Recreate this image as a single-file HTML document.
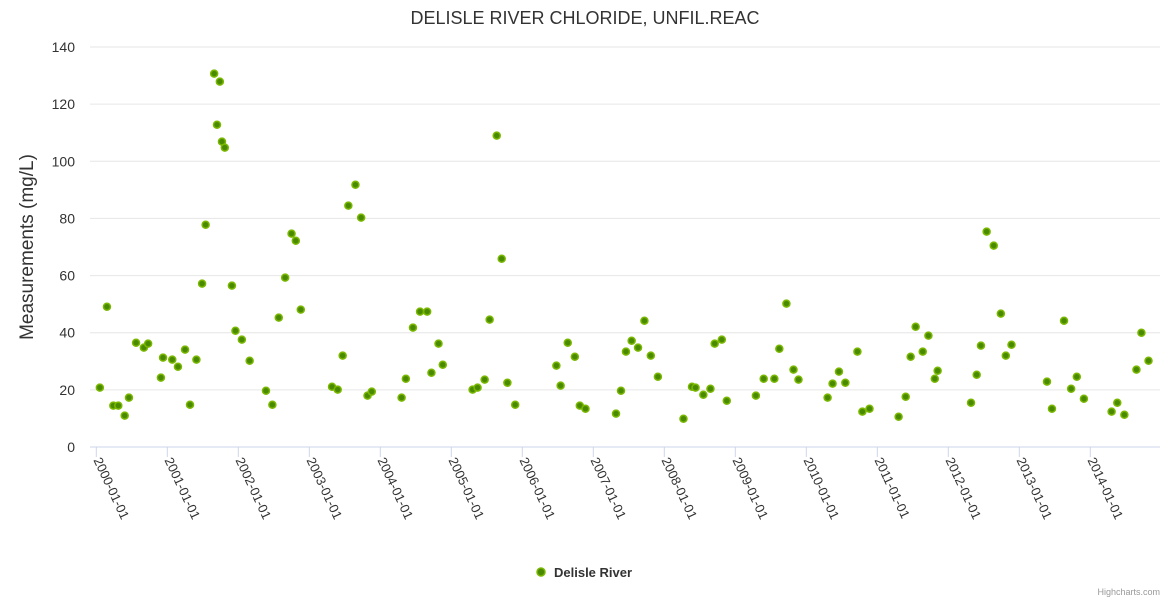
<!DOCTYPE html>
<html><head><meta charset="utf-8"><style>
body{margin:0;background:#fff;font-family:"Liberation Sans",sans-serif}
</style></head><body>
<svg id="c" width="1170" height="600" xmlns="http://www.w3.org/2000/svg">
<text x="585" y="24" text-anchor="middle" font-size="18" fill="#333">DELISLE RIVER CHLORIDE, UNFIL.REAC</text>
<text transform="translate(33,247) rotate(-90)" text-anchor="middle" font-size="19" fill="#333">Measurements (mg/L)</text>
<g id="grid"></g>
<g id="xaxis"></g>
<g id="pts"></g>
<g>
<circle cx="541" cy="572" r="4" fill="#4a8a00" stroke="#7ab800" stroke-width="1.5"/>
<text x="554" y="577" font-size="13" font-weight="bold" fill="#333">Delisle River</text>
</g>
<text x="1160" y="595" text-anchor="end" font-size="9" fill="#999">Highcharts.com</text>
</svg>
<script>
const years=[0,1,2,3,4,5,6,7,8,9,10,11,12,13,14];
const yTicks=[0,20,40,60,80,100,120,140];
const t=[0.05,0.15,0.24,0.31,0.40,0.46,0.56,0.67,0.73,0.91,0.94,1.07,1.15,1.25,1.32,1.41,1.49,1.54,1.66,1.70,1.74,1.77,1.81,1.91,1.96,2.05,2.16,2.39,2.48,2.57,2.66,2.75,2.81,2.88,3.32,3.40,3.47,3.55,3.65,3.73,3.82,3.88,4.30,4.36,4.46,4.56,4.66,4.72,4.82,4.88,5.30,5.37,5.47,5.54,5.64,5.71,5.79,5.90,6.48,6.54,6.64,6.74,6.81,6.89,7.32,7.39,7.46,7.54,7.63,7.72,7.81,7.91,8.27,8.39,8.44,8.55,8.65,8.71,8.81,8.88,9.29,9.40,9.55,9.62,9.72,9.82,9.89,10.30,10.37,10.46,10.55,10.72,10.79,10.89,11.30,11.40,11.47,11.54,11.64,11.72,11.81,11.85,12.32,12.40,12.46,12.54,12.64,12.74,12.81,12.89,13.39,13.46,13.63,13.73,13.81,13.91,14.30,14.38,14.48,14.65,14.72,14.82];
const v=[20.8,49.1,14.5,14.5,11,17.3,36.5,34.8,36.2,24.3,31.3,30.6,28.1,34.1,14.8,30.6,57.2,77.8,130.7,112.8,127.9,106.9,104.8,56.5,40.7,37.6,30.2,19.7,14.8,45.3,59.3,74.7,72.2,48.1,21.1,20.1,32,84.5,91.8,80.3,18,19.4,17.3,23.9,41.8,47.4,47.4,26,36.2,28.8,20.1,20.8,23.6,44.6,109,65.9,22.5,14.8,28.5,21.5,36.5,31.6,14.5,13.4,11.7,19.7,33.4,37.2,34.8,44.2,32,24.6,9.9,21.1,20.8,18.3,20.4,36.2,37.6,16.2,18,23.9,23.9,34.4,50.2,27.1,23.6,17.3,22.2,26.4,22.5,33.4,12.4,13.4,10.6,17.6,31.6,42.1,33.4,39,23.9,26.7,15.5,25.3,35.5,75.4,70.5,46.7,32,35.8,22.9,13.4,44.2,20.4,24.6,16.9,12.4,15.5,11.3,27.1,40,30.2];
const NS='http://www.w3.org/2000/svg';
const X=d=>96.3+d*71, Y=val=>447-val*400/140;
function mk(tag,attrs,parent){const e=document.createElementNS(NS,tag);for(const k in attrs)e.setAttribute(k,attrs[k]);parent.appendChild(e);return e;}
const grid=document.getElementById('grid'),xa=document.getElementById('xaxis'),pts=document.getElementById('pts');
yTicks.forEach(tk=>{
  const l=mk('line',{x1:90,x2:1160,y1:Y(tk),y2:Y(tk),stroke:tk===0?'#ccd6eb':'#e6e6e6','stroke-width':1},grid);
  
  
  const tx=mk('text',{x:75,y:Y(tk)+5,'text-anchor':'end','font-size':14,fill:'#333'},grid);
  tx.textContent=tk;
  
  
});
years.forEach(yr=>{
  const x=X(yr);
  const l=mk('line',{x1:x,x2:x,y1:447,y2:457,stroke:'#ccd6eb'},xa);
  
  
  const tx=mk('text',{transform:`translate(${x-3},${460}) rotate(65)`,'font-size':13,fill:'#333'},xa);
  tx.textContent=(2000+yr)+'-01-01';
  
  
});
t.forEach((d,i)=>{
  const c=mk('circle',{cx:X(d),cy:Y(v[i]),r:3.5,fill:'#4a8a00',stroke:'#7ab800','stroke-width':1.5},pts);
  
  
});
</script>
</body></html>
